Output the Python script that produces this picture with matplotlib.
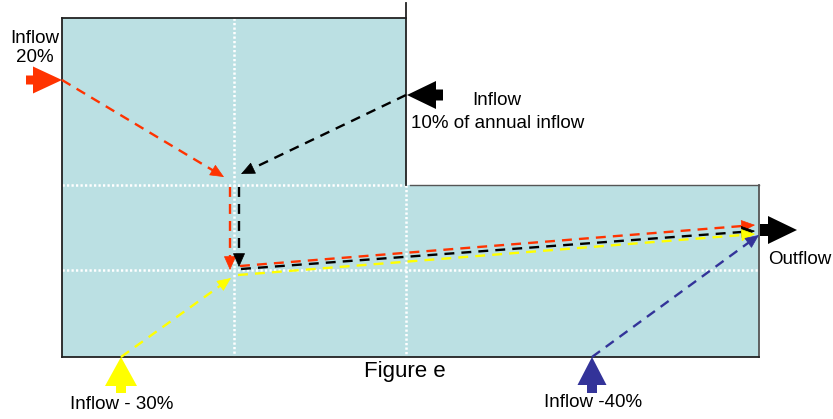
""" flow diagram of inflows and outflow through the two basins (figure e) """
import numpy as np
import matplotlib
matplotlib.use("Agg")
import matplotlib.pyplot as plt
from matplotlib.patches import Rectangle

plt.rcParams['font.family'] = ['Liberation Sans', 'DejaVu Sans']

# basins: x0, y0, x1, y1 (pixel space of the drawing)
upper_box = [62, 18, 406, 185]
lower_box = [62, 185, 759, 357]

# dashed flow segments per colour: x0, y0, x1, y1 (arrowhead at the second point)
flow_colors = {"red": "#ff3300", "black": "#000000", "yellow": "#ffff00", "blue": "#333399"}
flow_segments = {
    "red": [(62, 80, 224, 177), (230, 187, 230, 270), (240, 266, 755, 225)],
    "black": [(406, 95, 241, 174), (239, 187, 239, 267), (241, 269, 755, 231)],
    "yellow": [(121, 357, 231, 278), (238, 275, 755, 234)],
    "blue": [(592, 357, 759, 235)],
}

# block arrows: start x, start y, tip x, tip y, shaft width, head width, head length, colour
block_arrows = [
    (26, 80, 62, 80, 9, 27, 29, "red"),
    (443, 95, 407, 95, 11, 28, 29, "black"),
    (760, 230, 797, 230, 12, 28, 29, "black"),
    (121, 393, 121, 357, 10, 32, 29, "yellow"),
    (592, 393, 592, 357, 10, 29, 28, "blue"),
]

# labels: text, x, y, size
labels = [
    ("Inflow\n20%", 35, 48, 13.5),
    ("Inflow", 497, 100, 13.5),
    ("10% of annual inflow", 498, 123, 13.5),
    ("Outflow", 800, 259, 13.5),
    ("Figure e", 405, 371, 16),
    ("Inflow - 30%", 122, 404, 13.5),
    ("Inflow -40%", 593, 402, 13.5),
]

fig = plt.figure(figsize=(8.33, 4.19), dpi=100)
ax = fig.add_axes([0, 0, 1, 1])
ax.set_xlim(0, 833)
ax.set_ylim(419, 0)
ax.axis("off")

fill = "#bbe0e3"
for x0, y0, x1, y1 in (upper_box, lower_box):
    ax.add_patch(Rectangle((x0, y0), x1 - x0, y1 - y0, facecolor=fill, edgecolor="none", zorder=1))

# white dotted grid inside the basins
grid = dict(color="white", linestyle=(0, (0.9, 0.9)), lw=1.8, zorder=2)
ax.plot([234, 234], [upper_box[1], lower_box[3]], **grid)
ax.plot([upper_box[0], upper_box[2]], [185, 185], **grid)
ax.plot([lower_box[0], lower_box[2]], [270, 270], **grid)
ax.plot([406, 406], [185, lower_box[3]], **grid)

# basin borders
edge = dict(color="#222222", lw=1.3, zorder=3)
ax.plot([62, 62], [upper_box[1], lower_box[3]], **edge)
ax.plot([62, 406], [upper_box[1], upper_box[1]], **edge)
ax.plot([406, 406], [3, 185], **edge)
ax.plot([410, 759], [185, 185], color="#555555", lw=1.0, zorder=3)
ax.plot([759, 759], [185, 357], color="#555555", lw=1.3, zorder=3)
ax.plot([62, 759], [357, 357], **edge)

for name, segs in flow_segments.items():
    c = flow_colors[name]
    for x0, y0, x1, y1 in segs:
        d = np.array([x1 - x0, y1 - y0], dtype=float)
        d /= np.hypot(*d)
        ax.plot([x0, x1 - d[0] * 6], [y0, y1 - d[1] * 6], color=c, lw=1.7,
                linestyle=(0, (4.2, 3.0)), zorder=4)
        ax.annotate("", xy=(x1, y1), xytext=(x1 - d[0] * 2, y1 - d[1] * 2),
                    arrowprops=dict(arrowstyle="-|>,head_length=0.9,head_width=0.4",
                                    color=c, lw=0.5, shrinkA=0, shrinkB=0,
                                    mutation_scale=10), zorder=5)

for x0, y0, x1, y1, w, hw, hl, name in block_arrows:
    ax.arrow(x0, y0, x1 - x0, y1 - y0, width=w, head_width=hw, head_length=hl,
             length_includes_head=True, color=flow_colors[name], lw=0, zorder=6)

for txt, x, y, size in labels:
    ax.text(x, y, txt, ha="center", va="center", fontsize=size, color="black",
            linespacing=1.15, zorder=7)

fig.savefig("out.png", dpi=100)
